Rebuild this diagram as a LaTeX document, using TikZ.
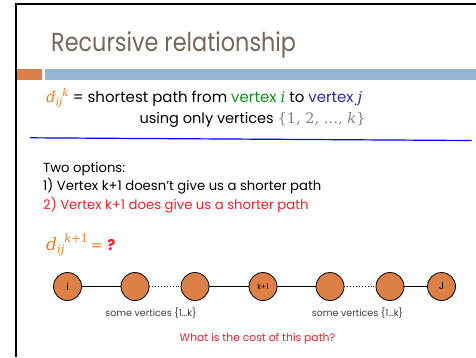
\documentclass[tikz,border=0pt]{standalone}
\usepackage{fontspec}
\setmainfont{Poppins}
\newfontfamily\mfont{DejaVu Serif}
\definecolor{titlecol}{RGB}{118,101,90}
\definecolor{orng}{RGB}{221,128,71}
\definecolor{bluebar}{RGB}{148,182,210}
\definecolor{dorange}{RGB}{238,125,34}
\definecolor{vgreen}{RGB}{20,140,30}
\definecolor{vblue}{RGB}{40,40,168}
\definecolor{myred}{RGB}{250,30,40}
\definecolor{lblgray}{RGB}{60,60,60}
\definecolor{setgray}{RGB}{128,128,128}
\definecolor{rulecol}{RGB}{0,0,255}
\newcommand\mvar[1]{{\mfont\itshape #1}}
% #1 size of d, #2 size of scripts, #3 superscript, #4 lower, #5 raise
\newcommand\dsym[5]{{\fontsize{#1}{#1}\selectfont\mvar{d}}\raisebox{-#4}{\fontsize{#2}{#2}\selectfont\mvar{ij}}\raisebox{#5}{\fontsize{#2}{#2}\selectfont #3}}
\tikzset{
  vtx/.style={circle, draw=black, line width=0.8pt, fill=orng, minimum size=28pt, inner sep=0pt, font=\fontsize{10}{12}\selectfont},
  edge/.style={line width=0.9pt},
  dotedge/.style={line width=0.9pt, dotted},
  body/.style={anchor=base west, inner sep=0pt, font=\fontsize{13.2}{15}\selectfont},
  defn/.style={inner sep=0pt, font=\fontsize{15}{17}\selectfont},
  small/.style={anchor=base, inner sep=0pt, font=\fontsize{9.5}{11}\selectfont, text=lblgray}
}
\begin{document}
\begin{tikzpicture}[x=1pt,y=-1pt]
\useasboundingbox (0,0) rectangle (476,357);
% frame
\draw[line width=2pt] (15.5,357) -- (15.5,3.5) -- (476,3.5);
% title
\node[anchor=base west, inner sep=0pt, text=titlecol, font=\fontsize{26}{30}\selectfont] (title) at (51,51.5) {\scalebox{0.86}[1]{Recursive relationship}};
% bars
\fill[orng] (16.5,69) rectangle (42,80);
\fill[bluebar] (45,69) rectangle (476,80);
% definition
\node[defn, anchor=base west] (def) at (46,102.5) {\textcolor{dorange}{\dsym{15}{10.5}{\mvar{k}}{2.5pt}{6.5pt}} = shortest path from \textcolor{vgreen}{vertex \mvar{i}} to \textcolor{vblue}{vertex \mvar{j}}};
\node[defn, anchor=base, font=\fontsize{14.5}{17}\selectfont] (def2) at (252.5,123) {using only vertices \textcolor{setgray}{\mfont\{1, 2, …, \mvar{k}\}}};
\coordinate (r1) at (30,137.8);
\coordinate (r2) at (471.5,140.5);
\draw[rulecol, line width=1.2pt] (r1) -- (r2);
% options
\node[body] (opt0) at (43,172) {Two options:};
\node[body] (opt1) at (43,190.5) {1) Vertex k+1 doesn't give us a shorter path};
\node[body, text=myred] (opt2) at (43,209) {2) Vertex k+1 does give us a shorter path};
\node[anchor=base west, inner sep=0pt, font=\fontsize{15}{18}\selectfont] (q) at (46,250) {\textcolor{dorange}{\dsym{17}{11.5}{{\mfont\mvar{k}+1}}{3pt}{8pt}}\,\textcolor{dorange}{\mfont =} \textcolor{myred}{\textbf{?}}};
% path
\node[vtx] (i) at (67.5,286.5) {i};
\node[vtx] (a) at (135,286.5) {};
\node[vtx] (b) at (195,286.5) {};
\node[vtx, font=\fontsize{7.5}{9}\selectfont] (k) at (263,286.5) {k+1};
\node[vtx] (c) at (330,286.5) {};
\node[vtx] (d) at (390,286.5) {};
\node[vtx] (j) at (441.5,286.5) {J};
\draw[edge] (i) -- (a);
\draw[dotedge] (a) -- (b);
\draw[edge] (b) -- (k);
\draw[edge] (k) -- (c);
\draw[dotedge] (c) -- (d);
\draw[edge] (d) -- (j);
\node[small] (s1) at (151,316) {some vertices \{1…k\}};
\node[small] (s2) at (357.5,316) {some vertices \{1…k\}};
\node[anchor=base, inner sep=0pt, font=\fontsize{10.8}{13}\selectfont, text=myred] (cost) at (257.5,341) {What is the cost of this path?};
\end{tikzpicture}
\end{document}
